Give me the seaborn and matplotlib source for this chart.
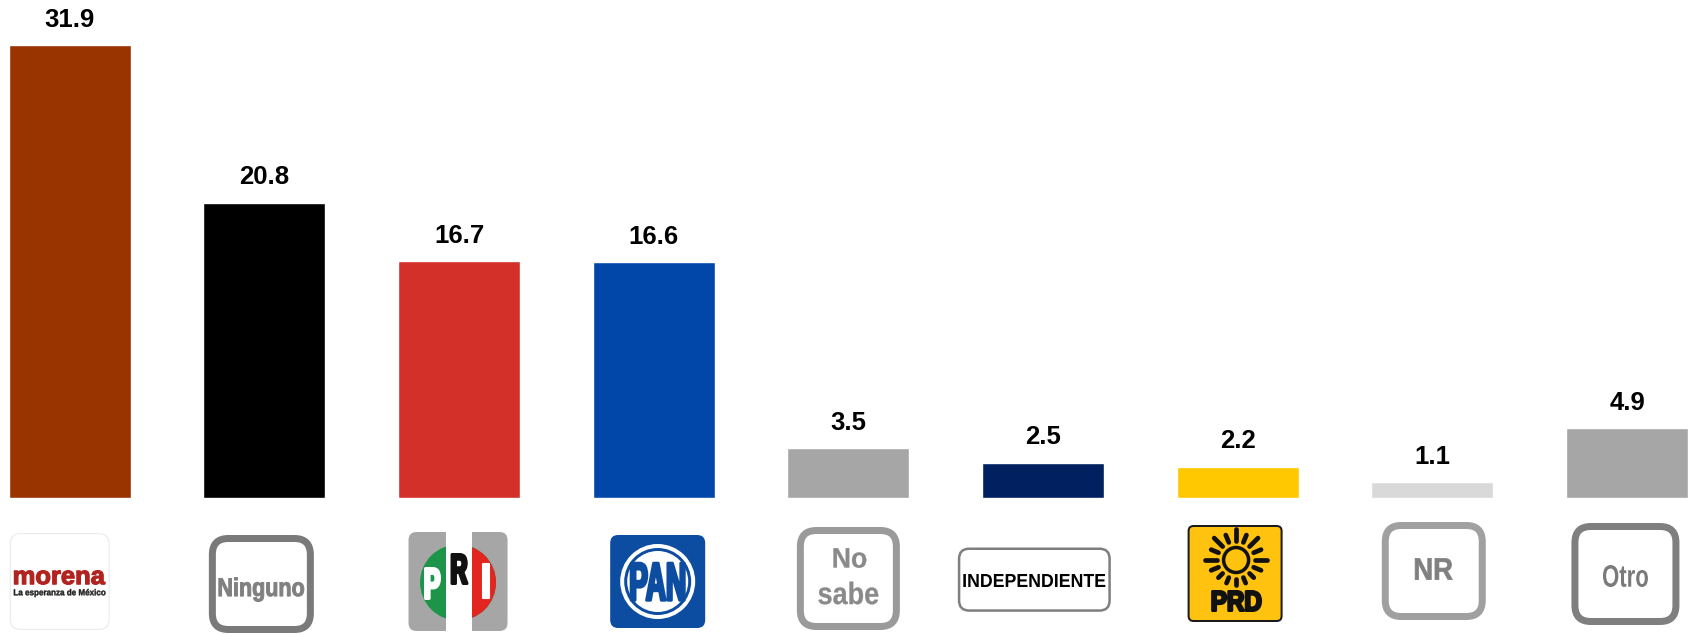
import numpy as np
import pandas as pd
import matplotlib
matplotlib.use("Agg")
import matplotlib.pyplot as plt
import seaborn as sns
from matplotlib.patches import FancyBboxPatch, Circle, Rectangle, PathPatch
from matplotlib.textpath import TextPath
from matplotlib.font_manager import FontProperties
from matplotlib.transforms import Affine2D

# ---------------- data ----------------
categories = ["morena", "Ninguno", "PRI", "PAN", "No sabe",
              "INDEPENDIENTE", "PRD", "NR", "Otro"]
values = [31.9, 20.8, 16.7, 16.6, 3.5, 2.5, 2.2, 1.1, 4.9]
value_labels = ["31.9", "20.8", "16.7", "16.6", "3.5", "2.5", "2.2", "1.1", "4.9"]
bar_colors = ["#993300", "#000000", "#D3302A", "#0047A9", "#A6A6A6",
              "#002060", "#FFC800", "#D9D9D9", "#A6A6A6"]

# ---------------- figure ----------------
W, H = 1694, 634
sns.set_style("white")
plt.rcParams["font.family"] = ["Liberation Sans", "DejaVu Sans"]

fig = plt.figure(figsize=(W / 100, H / 100), dpi=100)
ax = fig.add_axes([0, 136 / H, 1, 476 / H])

df = pd.DataFrame({"partido": categories, "pct": values})
sns.barplot(data=df, x="partido", y="pct", hue="partido",
            palette=dict(zip(categories, bar_colors)), saturation=1,
            width=0.627, legend=False, ax=ax)
ax.set_xlim(-0.358, 8.344)
ax.set_ylim(0, 476 / 14.2)
ax.axis("off")

for i, (v, lab) in enumerate(zip(values, value_labels)):
    ax.annotate(lab, (i, v), xytext=(0, 13.2), textcoords="offset points",
                ha="center", va="baseline", fontsize=18.5, fontweight="bold",
                color="#000000", annotation_clip=False)

# ---------------- logos (decorative category labels) ----------------
ov = fig.add_axes([0, 0, 1, 1])
ov.set_xlim(0, W)
ov.set_ylim(H, 0)
ov.axis("off")

fig.canvas.draw()
centers = [ax.transData.transform((i, 0))[0] for i in range(len(categories))]


def fit_text(s, cx, cy, w, h, color, weight="bold", stroke=0.0):
    fp = FontProperties(family="Liberation Sans", weight=weight)
    tp = TextPath((0, 0), s, size=100, prop=fp)
    bb = tp.get_extents()
    sw = stroke / 0.72  # stroke width in px
    tr = (Affine2D()
          .translate(-(bb.x0 + bb.x1) / 2, -(bb.y0 + bb.y1) / 2)
          .scale((w - sw) / bb.width, -(h - sw) / bb.height)
          .translate(cx, cy))
    ov.add_patch(PathPatch(tr.transform_path(tp), fc=color,
                           ec=color if stroke > 0 else "none",
                           lw=stroke, joinstyle="round"))


def rbox(x0, y0, x1, y1, fc, ec, lw_px, r):
    ov.add_patch(FancyBboxPatch((x0 + lw_px / 2, y0 + lw_px / 2),
                                (x1 - x0) - lw_px, (y1 - y0) - lw_px,
                                boxstyle=f"round,pad=0,rounding_size={r}",
                                fc=fc, ec=ec, lw=lw_px * 0.72))


# morena
c = centers[0] - 10
rbox(c - 50, 533, c + 50, 630, "white", "#ececec", 1.2, 10)
fit_text("morena", c, 577.5, 92, 15, "#B0231F", stroke=0.9)
fit_text("La esperanza de México", c, 593, 92, 8.5, "#222222", stroke=0.3)

# Ninguno
c = centers[1] - 3
rbox(c - 52.5, 535, c + 52.5, 633, "white", "#7a7a7a", 7, 16)
fit_text("Ninguno", c, 589.5, 86, 25, "#808080", stroke=0.7)

# PRI
c = centers[2] - 1
rbox(c - 49.5, 532, c + 49.5, 631, "#A6A6A6", "none", 0, 8)
ov.add_patch(Circle((c, 582.5), 38, fc="#1C9548", ec="none"))
red = Circle((c, 582.5), 38, fc="#E2261F", ec="none")
ov.add_patch(red)
clip = Rectangle((c + 13, 520), 60, 120, transform=ov.transData)
red.set_clip_path(clip)
ov.add_patch(Rectangle((c - 12.5, 532), 26, 99, fc="white", ec="none"))
fit_text("P", c - 25.5, 583.5, 17, 33, "white", stroke=2.2)
fit_text("R", c + 1.5, 569, 18, 32, "#111111", stroke=2.2)
fit_text("I", c + 28, 581, 9, 36, "white", stroke=1.5)

# PAN
c = centers[3] + 4
rbox(c - 47.5, 535, c + 47.5, 628, "#0D4DA1", "none", 0, 8)
ov.add_patch(Circle((c, 581.5), 37.5, fc="white", ec="none"))
ov.add_patch(Circle((c, 581.5), 33.5, fc="#0D4DA1", ec="none"))
ov.add_patch(Circle((c, 581.5), 30.5, fc="white", ec="none"))
fit_text("PAN", c, 581.7, 56, 40, "#0D4DA1", stroke=2.0)

# No sabe
c = centers[4]
rbox(c - 51.5, 527, c + 51.5, 630, "white", "#9a9a9a", 7, 16)
fit_text("No", c + 1.5, 558, 33, 20, "#8a8a8a", weight="bold", stroke=0.2)
fit_text("sabe", c, 593, 60, 23, "#8a8a8a", weight="bold", stroke=0.2)

# INDEPENDIENTE
c = centers[5] - 8.7
rbox(c - 76.5, 547.5, c + 76.5, 611.8, "white", "#7f7f7f", 2.5, 10)
fit_text("INDEPENDIENTE", c, 580.5, 142, 13, "#000000")

# PRD
c = centers[6] - 2.6
rbox(c - 47.5, 525, c + 47.5, 622, "#FFC20E", "#1a1a1a", 2, 5)
sx, sy = c + 1, 560
ov.add_patch(Circle((sx, sy), 12.5, fc="none", ec="#111111", lw=3.5 * 0.72))
for k, ang in enumerate(np.linspace(0, 2 * np.pi, 16, endpoint=False)):
    r1 = 19
    r2 = 31 if k % 2 == 0 else 27
    if np.sin(ang) > 0.5:      # lower rays (image y grows downward)
        r2 = min(r2, 25)
    ov.plot([sx + r1 * np.cos(ang), sx + r2 * np.cos(ang)],
            [sy + r1 * np.sin(ang), sy + r2 * np.sin(ang)],
            color="#111111", lw=3.4, solid_capstyle="round")
fit_text("PRD", c + 1.5, 601, 51, 22, "#111111", stroke=1.8)

# NR
c = centers[7] + 1.4
rbox(c - 52, 522, c + 52, 620, "white", "#a0a0a0", 7, 16)
fit_text("NR", c, 569, 38, 22, "#808080", stroke=0.5)

# Otro
c = centers[8] - 1.6
rbox(c - 54, 523, c + 54, 625, "white", "#7f7f7f", 7, 16)
fit_text("Otro", c, 576, 45, 22, "#7a7a7a", weight="bold", stroke=0.0)

fig.savefig("out.png", dpi=100)
